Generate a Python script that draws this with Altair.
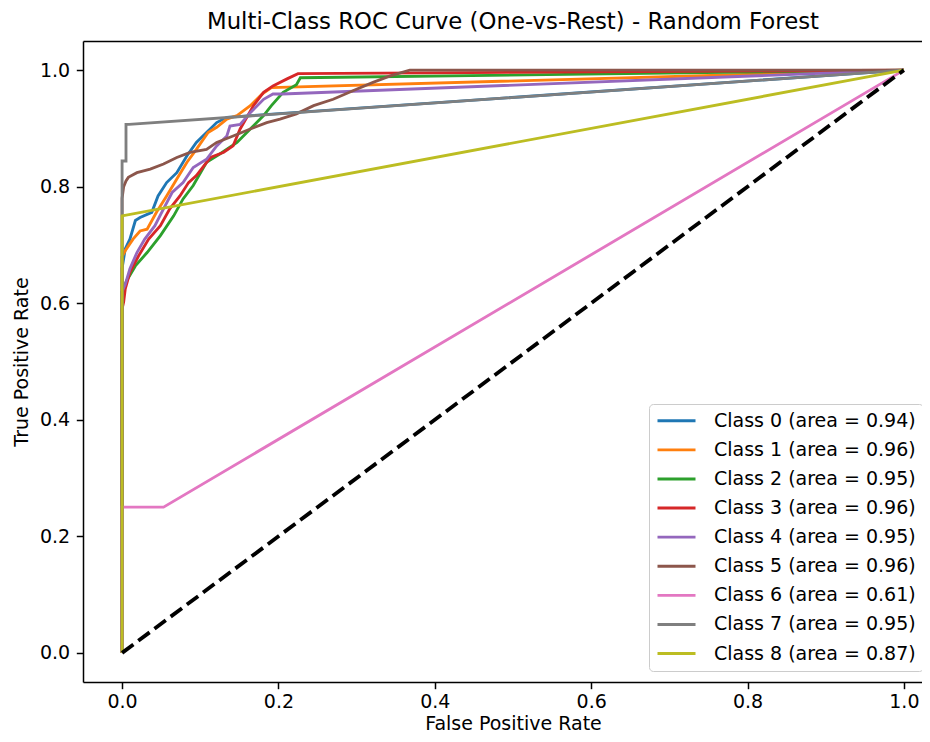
import altair as alt
import pandas as pd

class_labels = [
    "Class 0 (area = 0.94)", "Class 1 (area = 0.96)", "Class 2 (area = 0.95)",
    "Class 3 (area = 0.96)", "Class 4 (area = 0.95)", "Class 5 (area = 0.96)",
    "Class 6 (area = 0.61)", "Class 7 (area = 0.95)", "Class 8 (area = 0.87)",
]
colors = ["#1f77b4", "#ff7f0e", "#2ca02c", "#d62728", "#9467bd",
          "#8c564b", "#e377c2", "#7f7f7f", "#bcbd22"]

fpr_0 = [0, 0, 0.004, 0.010, 0.017, 0.023, 0.038, 0.046, 0.057, 0.070, 0.083, 0.095, 0.108, 0.121, 0.134, 1.0]
tpr_0 = [0, 0.66, 0.693, 0.710, 0.742, 0.747, 0.756, 0.784, 0.807, 0.824, 0.853, 0.876, 0.893, 0.910, 0.919, 1.0]

fpr_1 = [0, 0, 0.004, 0.014, 0.023, 0.032, 0.044, 0.057, 0.070, 0.083, 0.095, 0.110, 0.121, 0.134, 0.147, 0.164, 0.179, 0.191, 1.0]
tpr_1 = [0, 0.68, 0.690, 0.710, 0.724, 0.727, 0.756, 0.784, 0.813, 0.842, 0.864, 0.893, 0.902, 0.916, 0.922, 0.939, 0.959, 0.970, 1.0]

fpr_2 = [0, 0, 0.006, 0.017, 0.032, 0.049, 0.066, 0.078, 0.091, 0.108, 0.125, 0.147, 0.164, 0.181, 0.191, 0.206, 0.223, 0.228, 1.0]
tpr_2 = [0, 0.62, 0.639, 0.664, 0.687, 0.716, 0.750, 0.779, 0.802, 0.842, 0.856, 0.876, 0.899, 0.922, 0.939, 0.962, 0.975, 0.987, 1.0]

fpr_3 = [0, 0, 0.002, 0.004, 0.010, 0.021, 0.034, 0.049, 0.061, 0.074, 0.085, 0.095, 0.113, 0.130, 0.142, 0.151, 0.168, 0.181, 0.193, 0.211, 0.225, 1.0]
tpr_3 = [0, 0.59, 0.602, 0.624, 0.653, 0.681, 0.710, 0.733, 0.762, 0.784, 0.807, 0.819, 0.850, 0.859, 0.870, 0.899, 0.939, 0.962, 0.973, 0.985, 0.994, 1.0]

fpr_4 = [0, 0, 0.004, 0.010, 0.019, 0.029, 0.042, 0.053, 0.064, 0.078, 0.091, 0.108, 0.121, 0.134, 0.138, 0.151, 0.164, 0.181, 0.193, 0.205, 1.0]
tpr_4 = [0, 0.62, 0.632, 0.659, 0.687, 0.710, 0.733, 0.762, 0.790, 0.807, 0.833, 0.847, 0.870, 0.887, 0.904, 0.907, 0.927, 0.950, 0.959, 0.959, 1.0]

fpr_5 = [0, 0, 0.002, 0.005, 0.008, 0.019, 0.036, 0.053, 0.070, 0.087, 0.108, 0.121, 0.142, 0.164, 0.185, 0.202, 0.223, 0.245, 0.270, 0.296, 0.321, 0.343, 0.368, 1.0]
tpr_5 = [0, 0.78, 0.800, 0.810, 0.816, 0.824, 0.830, 0.839, 0.850, 0.859, 0.864, 0.876, 0.887, 0.899, 0.910, 0.916, 0.925, 0.939, 0.950, 0.965, 0.979, 0.990, 1.0, 1.0]

fpr_6 = [0, 0, 0.053, 1.0]
tpr_6 = [0, 0.25, 0.25, 1.0]

fpr_7 = [0, 0, 0.005, 0.005, 0.009, 1.0]
tpr_7 = [0, 0.844, 0.844, 0.907, 0.907, 1.0]

fpr_8 = [0, 0, 1.0]
tpr_8 = [0, 0.75, 1.0]

diag_x = [0, 1]
diag_y = [0, 1]

x_ticks = [0.0, 0.2, 0.4, 0.6, 0.8, 1.0]
y_ticks = [0.0, 0.2, 0.4, 0.6, 0.8, 1.0]

all_fpr = [fpr_0, fpr_1, fpr_2, fpr_3, fpr_4, fpr_5, fpr_6, fpr_7, fpr_8]
all_tpr = [tpr_0, tpr_1, tpr_2, tpr_3, tpr_4, tpr_5, tpr_6, tpr_7, tpr_8]

rows = []
for k, (fx, ty) in enumerate(zip(all_fpr, all_tpr)):
    for i, (a, b) in enumerate(zip(fx, ty)):
        rows.append({"fpr": a, "tpr": b, "cls": class_labels[k], "k": k, "idx": i})
df = pd.DataFrame(rows)
ddf = pd.DataFrame({"fpr": diag_x, "tpr": diag_y, "idx": list(range(len(diag_x)))})

FONT = "DejaVu Sans"
xscale = alt.Scale(domain=[-0.05, 1.0232], nice=False, zero=False)
yscale = alt.Scale(domain=[-0.05, 1.05], nice=False, zero=False)

curves = alt.Chart(df).mark_line(strokeWidth=2.85, clip=True).encode(
    x=alt.X("fpr:Q", scale=xscale,
            axis=alt.Axis(values=x_ticks, format=".1f", title="False Positive Rate",
                          labelBaseline="alphabetic", labelPadding=18.3,
                          titleY=47.5, titleX=430, titleBaseline="alphabetic",
                          labelFlush=False)),
    y=alt.Y("tpr:Q", scale=yscale,
            axis=alt.Axis(values=y_ticks, format=".1f", title="True Positive Rate",
                          labelPadding=6.7, titleX=-56, titleBaseline="alphabetic",
                          labelFlush=False)),
    color=alt.Color("cls:N", scale=alt.Scale(domain=class_labels, range=colors),
                    sort=class_labels,
                    legend=alt.Legend(title=None, orient="none", legendX=566, legendY=363,
                                      symbolType="stroke", symbolSize=1444,
                                      symbolStrokeWidth=2.85, labelFontSize=19,
                                      labelFont=FONT, labelColor="black",
                                      fillColor="rgba(255,255,255,0.8)",
                                      strokeColor="#cccccc", padding=7,
                                      cornerRadius=4, labelOffset=17, rowPadding=9.1,
                                      clipHeight=19.5, labelLimit=400)),
    order=alt.Order("idx:Q"),
)

diag = alt.Chart(ddf).mark_line(color="black", strokeWidth=3.8,
                                strokeDash=[14.1, 6.1], clip=True).encode(
    x=alt.X("fpr:Q", scale=xscale,
            axis=alt.Axis(orient="top", labels=False, ticks=False, title=None,
                          domain=True)),
    y=alt.Y("tpr:Q", scale=yscale),
    order=alt.Order("idx:Q"),
)

chart = alt.layer(curves, diag).resolve_axis(x="independent").properties(
    width=839, height=641,
    title=alt.TitleParams("Multi-Class ROC Curve (One-vs-Rest) - Random Forest",
                          font=FONT, fontSize=22.8, fontWeight="normal",
                          color="black", anchor="middle", offset=-10.8,
                          baseline="alphabetic", dx=10.5),
    padding={"left": 75, "top": 33, "right": 0, "bottom": 52},
    autosize=alt.AutoSizeParams(type="none"),
).configure_view(stroke=None).configure_axis(
    labelFont=FONT, titleFont=FONT, labelFontSize=19, titleFontSize=19,
    labelColor="black", titleColor="black", tickColor="black",
    domainColor="black", tickWidth=1.5, domainWidth=1.5, tickSize=6.7,
    grid=False, titleFontWeight="normal", labelOverlap=False,
)

chart.save("out.html", embed_options={"renderer": "svg", "actions": False})
